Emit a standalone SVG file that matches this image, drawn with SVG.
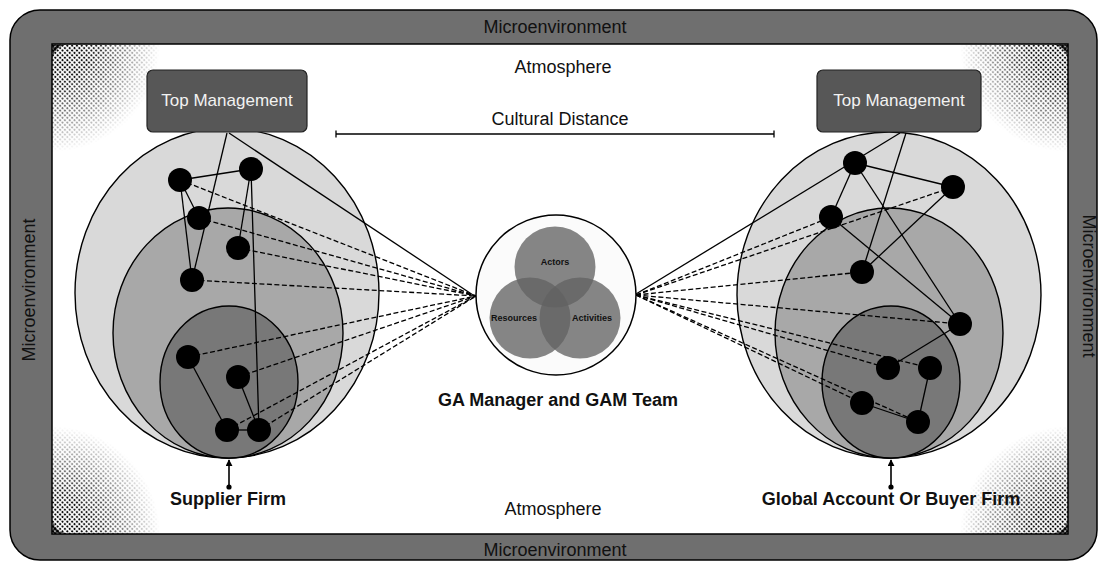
<svg xmlns="http://www.w3.org/2000/svg" width="1099" height="563" viewBox="0 0 1099 563">
  <style>
    .lbl { font-family: "Liberation Sans", Arial, sans-serif; fill: #111; }
    .env { font-size: 18px; text-anchor: middle; }
    .firm { font-size: 18px; font-weight: bold; text-anchor: middle; }
    .tm-box { fill: #575757; stroke: #222; stroke-width: 1.2; }
    .tm-txt { font-family: "Liberation Sans", Arial, sans-serif; font-size: 17px; fill: #f2f2f2; text-anchor: middle; }
    .ring1 { fill: #d9d9d9; stroke: #000; stroke-width: 1.4; }
    .ring2 { fill: #a8a8a8; stroke: #000; stroke-width: 1.4; }
    .ring3 { fill: #787878; stroke: #000; stroke-width: 1.4; }
    .tie { stroke: #000; stroke-width: 1.3; fill: none; }
    .dash { stroke: #000; stroke-width: 1.3; fill: none; stroke-dasharray: 5 2.5; }
    .actor { fill: #000; }
    .venn { fill: #616161; fill-opacity: 0.77; }
    .venn-txt { font-family: "Liberation Sans", Arial, sans-serif; font-size: 9px; font-weight: bold; fill: #111; text-anchor: middle; }
  </style>
  <defs>
    <pattern id="dots" width="3.4" height="3.4" patternUnits="userSpaceOnUse" patternTransform="rotate(45)">
      <circle cx="1.7" cy="1.7" r="1.15" fill="#000"/>
    </pattern>
    <pattern id="dotsBig" width="3.4" height="3.4" patternUnits="userSpaceOnUse" patternTransform="rotate(45)">
      <circle cx="1.7" cy="1.7" r="1.6" fill="#000"/>
    </pattern>
    <radialGradient id="gTL" gradientUnits="userSpaceOnUse" cx="52" cy="44" r="108">
      <stop offset="0" stop-color="#fff"/>
      <stop offset="0.35" stop-color="#fff" stop-opacity="0.9"/>
      <stop offset="1" stop-color="#fff" stop-opacity="0"/>
    </radialGradient>
    <radialGradient id="gTR" gradientUnits="userSpaceOnUse" cx="1068" cy="44" r="108">
      <stop offset="0" stop-color="#fff"/>
      <stop offset="0.35" stop-color="#fff" stop-opacity="0.9"/>
      <stop offset="1" stop-color="#fff" stop-opacity="0"/>
    </radialGradient>
    <radialGradient id="gBL" gradientUnits="userSpaceOnUse" cx="52" cy="534" r="108">
      <stop offset="0" stop-color="#fff"/>
      <stop offset="0.35" stop-color="#fff" stop-opacity="0.9"/>
      <stop offset="1" stop-color="#fff" stop-opacity="0"/>
    </radialGradient>
    <radialGradient id="gBR" gradientUnits="userSpaceOnUse" cx="1068" cy="534" r="108">
      <stop offset="0" stop-color="#fff"/>
      <stop offset="0.35" stop-color="#fff" stop-opacity="0.9"/>
      <stop offset="1" stop-color="#fff" stop-opacity="0"/>
    </radialGradient>
    <mask id="cornerFade" maskUnits="userSpaceOnUse" x="0" y="0" width="1099" height="563">
      <rect x="52" y="44" width="110" height="110" fill="url(#gTL)"/>
      <rect x="958" y="44" width="110" height="110" fill="url(#gTR)"/>
      <rect x="52" y="424" width="110" height="110" fill="url(#gBL)"/>
      <rect x="958" y="424" width="110" height="110" fill="url(#gBR)"/>
    </mask>
    <!-- dense dark wedge in each corner, outside a rounded inner edge -->
    <path id="cornerWedge" d="M0,0 H16 A16,16 0 0 0 0,16 Z"/>
    <marker id="arrowUp" viewBox="0 0 8 8" refX="7" refY="4" markerWidth="7" markerHeight="7" orient="auto" markerUnits="userSpaceOnUse">
      <path d="M0,0 L8,4 L0,8 Z" fill="#000"/>
    </marker>
  </defs>

  <!-- frame: microenvironment band and atmosphere field -->
  <g id="frame">
    <rect x="10" y="10" width="1087" height="550" rx="30" ry="30" fill="#6f6f6f" stroke="#000" stroke-width="1.5"/>
    <rect x="52" y="44" width="1016" height="490" fill="#fff" stroke="#000" stroke-width="1.5"/>
    <rect x="52" y="44" width="1016" height="490" fill="url(#dots)" mask="url(#cornerFade)"/>
    <use href="#cornerWedge" transform="translate(52.5,44.5)" fill="url(#dotsBig)"/>
    <use href="#cornerWedge" transform="translate(1067.5,44.5) scale(-1,1)" fill="url(#dotsBig)"/>
    <use href="#cornerWedge" transform="translate(52.5,533.5) scale(1,-1)" fill="url(#dotsBig)"/>
    <use href="#cornerWedge" transform="translate(1067.5,533.5) scale(-1,-1)" fill="url(#dotsBig)"/>
    <text class="lbl env" x="555" y="33">Microenvironment</text>
    <text class="lbl env" x="555" y="556">Microenvironment</text>
    <text class="lbl env" transform="translate(35,290) rotate(-90)">Microenvironment</text>
    <text class="lbl env" transform="translate(1083,286) rotate(90)">Microenvironment</text>
    <text class="lbl env" x="563" y="73">Atmosphere</text>
    <text class="lbl env" x="553" y="515">Atmosphere</text>
  </g>

  <!-- cultural distance scale -->
  <g id="cultural-distance">
    <text class="lbl env" x="560" y="125">Cultural Distance</text>
    <line x1="336" y1="134" x2="774" y2="134" stroke="#000" stroke-width="1.3"/>
    <line x1="336" y1="130.5" x2="336" y2="137.5" stroke="#000" stroke-width="1.3"/>
    <line x1="774" y1="130.5" x2="774" y2="137.5" stroke="#000" stroke-width="1.3"/>
  </g>

  <!-- supplier firm rings -->
  <g id="supplier-firm">
    <ellipse class="ring1" cx="227" cy="293" rx="152" ry="165"/>
    <ellipse class="ring2" cx="228" cy="333" rx="115" ry="125"/>
    <ellipse class="ring3" cx="229" cy="382" rx="69" ry="76"/>
  </g>

  <!-- buyer firm rings -->
  <g id="buyer-firm">
    <ellipse class="ring1" cx="889" cy="295" rx="152" ry="163"/>
    <ellipse class="ring2" cx="889" cy="333" rx="114" ry="125"/>
    <ellipse class="ring3" cx="891" cy="382" rx="69" ry="76"/>
  </g>

  <!-- ties between actors and links to the GAM team -->
  <g id="connectors">
    <!-- supplier side, solid -->
    <line class="tie" x1="227" y1="133" x2="192" y2="280"/>
    <line class="tie" x1="229" y1="133" x2="476" y2="297"/>
    <line class="tie" x1="180" y1="180" x2="251" y2="169"/>
    <line class="tie" x1="180" y1="180" x2="199" y2="218"/>
    <line class="tie" x1="180" y1="180" x2="192" y2="280"/>
    <line class="tie" x1="251" y1="169" x2="238" y2="248"/>
    <line class="tie" x1="251" y1="169" x2="259" y2="430"/>
    <line class="tie" x1="188" y1="357" x2="227" y2="430"/>
    <line class="tie" x1="238" y1="377" x2="259" y2="430"/>
    <line class="tie" x1="227" y1="430" x2="259" y2="430"/>
    <!-- supplier side, dashed -->
    <line class="dash" x1="180" y1="180" x2="476" y2="296"/>
    <line class="dash" x1="199" y1="218" x2="476" y2="296"/>
    <line class="dash" x1="238" y1="248" x2="476" y2="296"/>
    <line class="dash" x1="192" y1="280" x2="476" y2="296"/>
    <line class="dash" x1="188" y1="357" x2="476" y2="296"/>
    <line class="dash" x1="238" y1="377" x2="476" y2="296"/>
    <line class="dash" x1="227" y1="430" x2="476" y2="296"/>
    <line class="dash" x1="259" y1="430" x2="476" y2="296"/>
    <!-- buyer side, solid -->
    <line class="tie" x1="900" y1="133" x2="636" y2="294"/>
    <line class="tie" x1="906" y1="133" x2="862" y2="272"/>
    <line class="tie" x1="855" y1="163" x2="953" y2="187"/>
    <line class="tie" x1="855" y1="163" x2="831" y2="217"/>
    <line class="tie" x1="855" y1="163" x2="960" y2="324"/>
    <line class="tie" x1="831" y1="217" x2="960" y2="324"/>
    <line class="tie" x1="953" y1="187" x2="862" y2="272"/>
    <line class="tie" x1="960" y1="324" x2="888" y2="368"/>
    <line class="tie" x1="930" y1="368" x2="918" y2="422"/>
    <line class="tie" x1="862" y1="403" x2="918" y2="422"/>
    <!-- buyer side, dashed -->
    <line class="dash" x1="636" y1="295" x2="953" y2="187"/>
    <line class="dash" x1="636" y1="295" x2="831" y2="217"/>
    <line class="dash" x1="636" y1="295" x2="862" y2="272"/>
    <line class="dash" x1="636" y1="295" x2="960" y2="324"/>
    <line class="dash" x1="636" y1="295" x2="888" y2="368"/>
    <line class="dash" x1="636" y1="295" x2="930" y2="368"/>
    <line class="dash" x1="636" y1="295" x2="862" y2="403"/>
    <line class="dash" x1="636" y1="295" x2="918" y2="422"/>
    <!-- firm pointers -->
    <line x1="229" y1="487" x2="229" y2="460" stroke="#000" stroke-width="1.6" marker-end="url(#arrowUp)"/>
    <circle cx="229" cy="487" r="2.6" fill="#000"/>
    <line x1="891" y1="487" x2="891" y2="460" stroke="#000" stroke-width="1.6" marker-end="url(#arrowUp)"/>
    <circle cx="891" cy="487" r="2.6" fill="#000"/>
  </g>

  <!-- actors inside the supplier firm -->
  <g id="supplier-actors">
    <circle class="actor" cx="180" cy="180" r="12"/>
    <circle class="actor" cx="251" cy="169" r="12"/>
    <circle class="actor" cx="199" cy="218" r="12"/>
    <circle class="actor" cx="238" cy="248" r="12"/>
    <circle class="actor" cx="192" cy="280" r="12"/>
    <circle class="actor" cx="188" cy="357" r="12"/>
    <circle class="actor" cx="238" cy="377" r="12"/>
    <circle class="actor" cx="227" cy="430" r="12"/>
    <circle class="actor" cx="259" cy="430" r="12"/>
  </g>

  <!-- actors inside the buyer firm -->
  <g id="buyer-actors">
    <circle class="actor" cx="855" cy="163" r="12"/>
    <circle class="actor" cx="953" cy="187" r="12"/>
    <circle class="actor" cx="831" cy="217" r="12"/>
    <circle class="actor" cx="862" cy="272" r="12"/>
    <circle class="actor" cx="960" cy="324" r="12"/>
    <circle class="actor" cx="888" cy="368" r="12"/>
    <circle class="actor" cx="930" cy="368" r="12"/>
    <circle class="actor" cx="862" cy="403" r="12"/>
    <circle class="actor" cx="918" cy="422" r="12"/>
  </g>

  <!-- top management boxes -->
  <g id="supplier-top-management">
    <rect class="tm-box" x="147" y="70" width="160" height="62" rx="6" ry="6"/>
    <text class="tm-txt" x="227" y="106">Top Management</text>
  </g>
  <g id="buyer-top-management">
    <rect class="tm-box" x="817" y="70" width="164" height="62" rx="6" ry="6"/>
    <text class="tm-txt" x="899" y="106">Top Management</text>
  </g>

  <!-- GA manager and GAM team: ARA model -->
  <g id="gam-team">
    <circle cx="556" cy="295" r="80" fill="#fbfbfb" stroke="#000" stroke-width="1.5"/>
    <circle class="venn" cx="555" cy="267" r="40.5"/>
    <circle class="venn" cx="530" cy="318" r="40.5"/>
    <circle class="venn" cx="580" cy="318" r="40.5"/>
    <text class="venn-txt" x="555" y="265">Actors</text>
    <text class="venn-txt" x="514" y="321">Resources</text>
    <text class="venn-txt" x="592" y="321">Activities</text>
    <text class="lbl firm" x="558" y="406">GA Manager and GAM Team</text>
  </g>

  <!-- firm captions -->
  <g id="captions">
    <text class="lbl firm" x="228" y="505">Supplier Firm</text>
    <text class="lbl firm" x="891" y="505">Global Account Or Buyer Firm</text>
  </g>
</svg>
